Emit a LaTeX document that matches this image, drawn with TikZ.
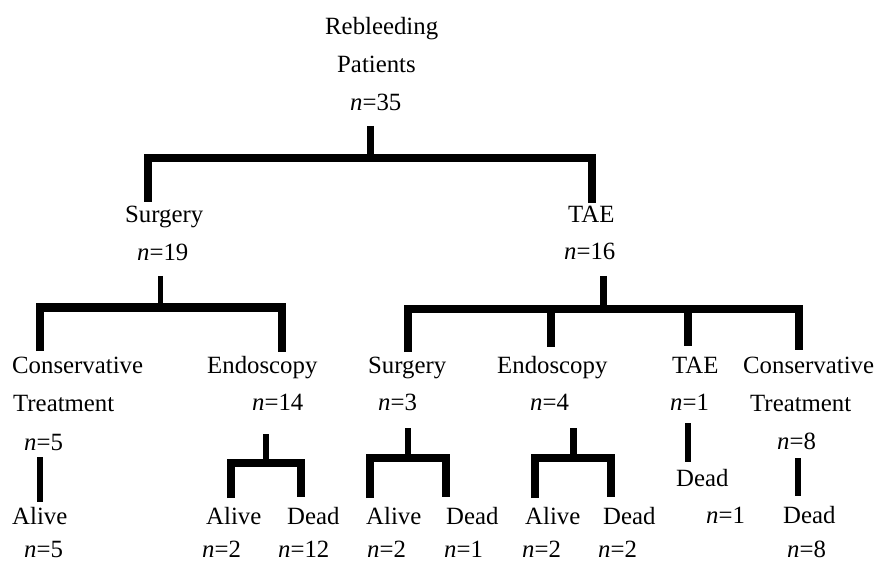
\documentclass[tikz,border=0pt]{standalone}
\usepackage{fontspec}
\setmainfont{Liberation Serif}
\begin{document}
\begin{tikzpicture}[x=1pt,y=-1pt,
  lbl/.style={anchor=base west, inner sep=0pt, font=\fontsize{24.8}{30}\selectfont},
  low/.style={lbl, text depth=0pt},
  bar/.style={line width=8pt, line join=miter},
  stub/.style={line width=6.5pt},
  thin stub/.style={line width=5.5pt}]
\useasboundingbox (0,0) rectangle (876,564);
\newcommand{\nn}[1]{\textit{n}=#1}
% labels
\node[lbl] (root1) at (325,35) {Rebleeding};
\node[lbl] (root2) at (337,73) {Patients};
\node[lbl] (root3) at (350,111) {\nn{35}};
\node[lbl] (s1) at (125,223) {Surgery};
\node[lbl] (s2) at (137,261) {\nn{19}};
\node[lbl] (t1) at (568,223) {TAE};
\node[lbl] (t2) at (564,260) {\nn{16}};
\node[lbl] (sc1) at (12,373) {Conservative};
\node[lbl] (sc2) at (13,411) {Treatment};
\node[lbl] (sc3) at (24,450) {\nn{5}};
\node[lbl] (se1) at (207,373) {Endoscopy};
\node[lbl] (se2) at (252,410) {\nn{14}};
\node[lbl] (ts1) at (368,373) {Surgery};
\node[lbl] (ts2) at (378,410) {\nn{3}};
\node[lbl] (te1) at (497,373) {Endoscopy};
\node[lbl] (te2) at (530,410) {\nn{4}};
\node[lbl] (tt1) at (672,373) {TAE};
\node[lbl] (tt2) at (670,410) {\nn{1}};
\node[lbl] (tc1) at (743,373) {Conservative};
\node[lbl] (tc2) at (750,411) {Treatment};
\node[lbl] (tc3) at (777,449) {\nn{8}};
\node[lbl] (sca1) at (12,524) {Alive};
\node[low] (sca2) at (24,557) {\nn{5}};
\node[lbl] (sea1) at (206,524) {Alive};
\node[low] (sea2) at (202,557) {\nn{2}};
\node[lbl] (sed1) at (287,524) {Dead};
\node[low] (sed2) at (278,557) {\nn{12}};
\node[lbl] (tsa1) at (366,524) {Alive};
\node[low] (tsa2) at (367,557) {\nn{2}};
\node[lbl] (tsd1) at (446,524) {Dead};
\node[low] (tsd2) at (444,557) {\nn{1}};
\node[lbl] (tea1) at (525,524) {Alive};
\node[low] (tea2) at (522,557) {\nn{2}};
\node[lbl] (ted1) at (603,524) {Dead};
\node[low] (ted2) at (598,557) {\nn{2}};
\node[lbl] (ttd1) at (676,486) {Dead};
\node[lbl] (ttd2) at (706,523) {\nn{1}};
\node[lbl] (tcd1) at (783,523) {Dead};
\node[low] (tcd2) at (787,557) {\nn{8}};
% junction coordinates
\coordinate (r0) at (370.5,126);
\coordinate (rj) at (370.5,158);
\coordinate (rl) at (148,158);
\coordinate (rlb) at (148,202);
\coordinate (rr) at (591.5,158);
\coordinate (rrb) at (591.5,203);
% top tree
\draw[stub] (r0) -- (rj);
\draw[bar] (rlb) -- (rl) -- (rr) -- (rrb);
% surgery subtree
\coordinate (s0) at (160.5,276);
\coordinate (sj) at (160.5,307.5);
\draw[thin stub] (s0) -- (sj);
\draw[bar] (40,351) coordinate (sl) -- (40,307.5) -- (281.5,307.5) -- (281.5,352) coordinate (sr);
% TAE subtree
\coordinate (t0) at (603.5,276);
\coordinate (tj) at (603.5,309);
\draw[stub] (t0) -- (tj);
\draw[bar] (408,352) coordinate (tl) -- (408,309) -- (799,309) -- (799,350) coordinate (tr);
\draw[bar] (550.5,309) coordinate (tej) -- (550.5,347) coordinate (teb);
\draw[bar] (688,309) coordinate (ttj) -- (688,346) coordinate (ttb);
% conservative -> alive
\draw[thin stub] (40,457) coordinate (sca0) -- (40,502) coordinate (scab);
% endoscopy (surgery) bracket
\draw[thin stub] (266,434) coordinate (se0) -- (266,462.5) coordinate (sej);
\draw[bar] (231,498) -- (231,462.5) -- (301,462.5) -- (301,497);
% surgery (TAE) bracket
\draw[stub] (408,428) coordinate (ts0) -- (408,457.5) coordinate (tsj);
\draw[bar] (369.5,498) -- (369.5,457.5) -- (446,457.5) -- (446,497);
% endoscopy (TAE) bracket
\draw[stub] (573.5,428) coordinate (te0) -- (573.5,457.5) coordinate (tej2);
\draw[bar] (534.5,498) -- (534.5,457.5) -- (611,457.5) -- (611,497);
% TAE -> dead
\draw[thin stub] (688,423) coordinate (tt0) -- (688,462) coordinate (ttd);
% conservative (TAE) -> dead
\draw[thin stub] (798,458) coordinate (tc0) -- (798,496) coordinate (tcd);
\end{tikzpicture}
\end{document}
